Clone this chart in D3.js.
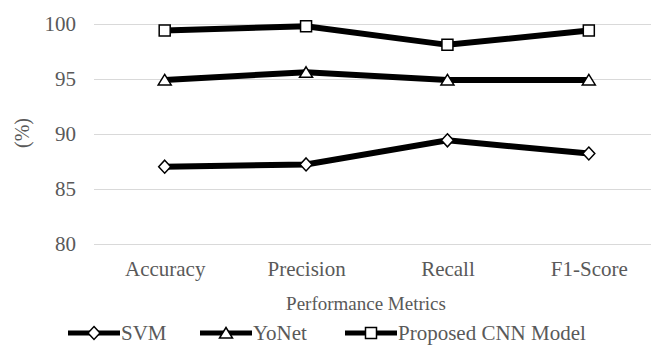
<html>
<head>
<meta charset="UTF-8">
<title>Performance Metrics</title>
<style>
body { margin: 0; background: #fff; }
.grid line { stroke: #d9d9d9; stroke-width: 1; }
text { font-family: "Liberation Serif", "Times New Roman", serif; fill: #595959; }
</style>
</head>
<body>
<div id="chart"></div>
<script src="https://cdn.jsdelivr.net/npm/d3@7"></script>
<script>
var categories = ["Accuracy", "Precision", "Recall", "F1-Score"];
var seriesNames = ["SVM", "YoNet", "Proposed CNN Model"];
var svmValues = [87.0, 87.2, 89.4, 88.2];
var yonetValues = [94.9, 95.6, 94.9, 94.9];
var cnnValues = [99.4, 99.8, 98.1, 99.4];
var yTicks = [80, 85, 90, 95, 100];

var width = 651, height = 345;
var serif = "'Liberation Serif', 'Times New Roman', serif";
var svg = d3.select("#chart").append("svg")
	.attr("width", width).attr("height", height);

var x = d3.scalePoint().domain(categories).range([94, 659.5]).padding(0.5);
var y = d3.scaleLinear().domain([80, 100]).range([243.5, 24]);

// grid
svg.append("g").attr("class", "grid")
	.selectAll("line").data(yTicks).enter().append("line")
	.attr("x1", 94).attr("x2", 660)
	.attr("y1", function(d) { return Math.round(y(d)) + 0.5; })
	.attr("y2", function(d) { return Math.round(y(d)) + 0.5; });

// y axis labels
var yAxis = d3.axisLeft(y).tickValues(yTicks).tickSize(0).tickPadding(0);
var yg = svg.append("g").attr("transform", "translate(76,0)").call(yAxis)
	.attr("font-family", serif).attr("font-size", "21px");
yg.select(".domain").remove();
yg.selectAll("text").attr("fill", "#595959");

// x axis labels
var xAxis = d3.axisBottom(x).tickSize(0).tickPadding(0);
var xg = svg.append("g").attr("transform", "translate(0,261)").call(xAxis)
	.attr("font-family", serif).attr("font-size", "21px");
xg.select(".domain").remove();
xg.selectAll("text").attr("fill", "#595959");

svg.append("text").attr("x", 366).attr("y", 310).attr("text-anchor", "middle")
	.attr("font-size", "19px").text("Performance Metrics");
svg.append("text").attr("transform", "translate(29,133) rotate(-90)")
	.attr("text-anchor", "middle").attr("font-size", "20px").text("(%)");

// marker shapes
var shapes = [
	"M0,-6.5L6,0L0,6.5L-6,0Z",
	"M0,-5.5L6.5,5L-6.5,5Z",
	"M-5.5,-5.5H5.5V5.5H-5.5Z"
];
var allSeries = [svmValues, yonetValues, cnnValues];

var line = d3.line()
	.x(function(d, i) { return x(categories[i]); })
	.y(function(d) { return y(d); });

allSeries.forEach(function(vals, k) {
	svg.append("path").datum(vals)
		.attr("d", line).attr("fill", "none")
		.attr("stroke", "#000").attr("stroke-width", 6);
	svg.selectAll(".m" + k).data(vals).enter().append("path")
		.attr("class", "m" + k)
		.attr("d", shapes[k])
		.attr("transform", function(d, i) { return "translate(" + x(categories[i]) + "," + y(d) + ")"; })
		.attr("fill", "#fff").attr("stroke", "#000").attr("stroke-width", 1.5);
});

// legend
var legendX = [68, 200, 345];
seriesNames.forEach(function(name, k) {
	var g = svg.append("g").attr("transform", "translate(" + legendX[k] + ",333)");
	g.append("line").attr("x1", 0).attr("x2", 52).attr("y1", 0).attr("y2", 0)
		.attr("stroke", "#000").attr("stroke-width", 5);
	g.append("path").attr("d", shapes[k]).attr("transform", "translate(26,0)")
		.attr("fill", "#fff").attr("stroke", "#000").attr("stroke-width", 1.5);
	g.append("text").attr("x", 53).attr("y", 7).attr("font-size", "21px").text(name);
});
</script>
</body>
</html>
